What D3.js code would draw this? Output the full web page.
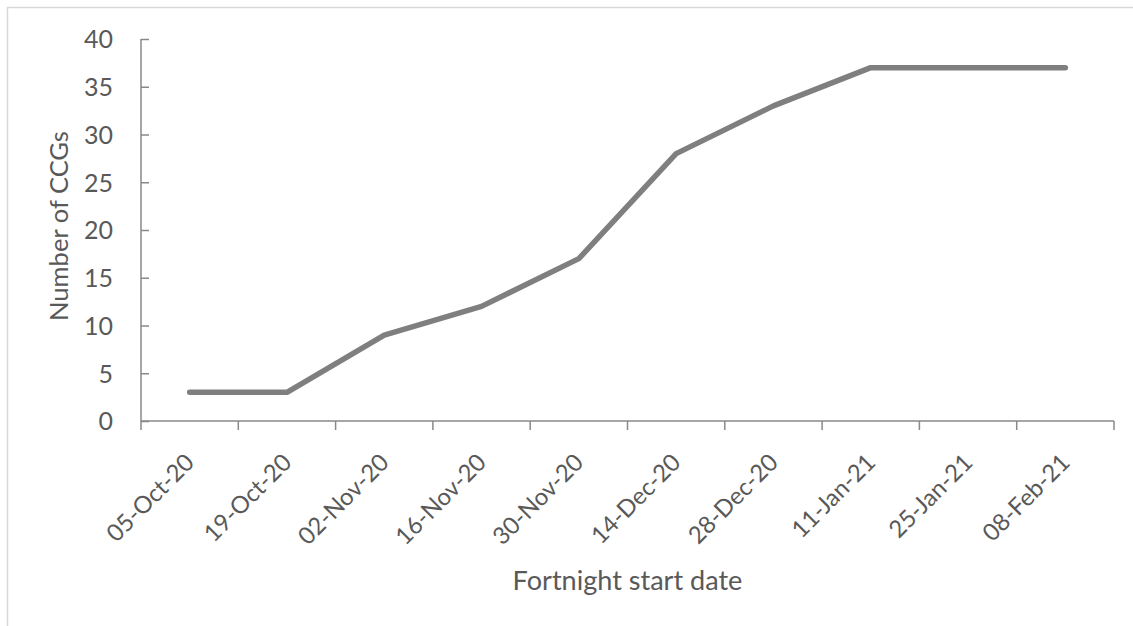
<!DOCTYPE html>
<html><head><meta charset="utf-8">
<script src="https://cdn.jsdelivr.net/npm/d3@7"></script>
<style>
html,body{margin:0;padding:0;background:#fff;}
svg{display:block;}
text{font-family:Lato,"Open Sans",sans-serif;fill:#595959;}
</style></head>
<body>
<svg id="chart" width="1133" height="626"></svg>
<script>
const categories = ["05-Oct-20","19-Oct-20","02-Nov-20","16-Nov-20","30-Nov-20","14-Dec-20","28-Dec-20","11-Jan-21","25-Jan-21","08-Feb-21"];
const values = [3,3,9,12,17,28,33,37,37,37];
const yTicks = [0,5,10,15,20,25,30,35,40];
const xTitle = "Fortnight start date";
const yTitle = "Number of CCGs";

const svg = d3.select("#chart");
svg.append("rect").attr("x",7.5).attr("y",7.5).attr("width",1140).attr("height",640)
  .attr("fill","none").attr("stroke","#d9d9d9").attr("stroke-width",1.5);

const pLeft = 141, pRight = 1114, pTop = 39, pBottom = 421;
const x = d3.scaleBand().domain(categories).range([pLeft,pRight]);
const y = d3.scaleLinear().domain([0,40]).range([pBottom,pTop]);
const axisColor = "#898989";

// size a font so that a sample string reaches a target width
function fitSize(sample, target){
  const t = svg.append("text").attr("font-size",20).text(sample);
  const len = t.node().getComputedTextLength();
  t.remove();
  return 20*target/len;
}
const tickSize = fitSize("40", 29);
const xLabSize = fitSize("05-Oct-20", 112);
const xTitleSize = fitSize(xTitle, 230);
const yTitleSize = fitSize(yTitle, 190);

// y axis
const gy = svg.append("g").attr("transform",`translate(${pLeft},0)`)
  .call(d3.axisRight(y).tickValues(yTicks).tickSize(8).tickFormat(d3.format("d")));
gy.select(".domain").attr("stroke",axisColor).attr("stroke-width",1.5).attr("d",`M0,${pTop}V${pBottom}`);
gy.selectAll(".tick line").attr("stroke",axisColor).attr("stroke-width",1.5);
gy.selectAll(".tick text").attr("x",-28).attr("text-anchor","end").attr("font-size",tickSize).attr("fill","#595959").attr("dy","0.35em");

// x axis
const gx = svg.append("g").attr("transform",`translate(0,${pBottom})`);
gx.append("line").attr("x1",pLeft).attr("x2",pRight).attr("y1",0).attr("y2",0).attr("stroke",axisColor).attr("stroke-width",1.5);
const bounds = categories.map(c=>x(c)).concat([pRight]);
gx.selectAll("line.tk").data(bounds).join("line").attr("class","tk")
  .attr("x1",d=>d).attr("x2",d=>d).attr("y1",0).attr("y2",9).attr("stroke",axisColor).attr("stroke-width",1.5);
gx.selectAll("text.lbl").data(categories).join("text").attr("class","lbl")
  .attr("transform",d=>`translate(${x(d)+x.bandwidth()/2+6},${43}) rotate(-45)`)
  .attr("text-anchor","end").attr("font-size",xLabSize).text(d=>d);

// line
const line = d3.line().x((d,i)=>x(categories[i])+x.bandwidth()/2).y(d=>y(d));
svg.append("path").datum(values).attr("d",line).attr("fill","none")
  .attr("stroke","#7f7f7f").attr("stroke-width",5.5).attr("stroke-linecap","round").attr("stroke-linejoin","round");

// titles
svg.append("text").attr("x",(pLeft+pRight)/2).attr("y",590).attr("text-anchor","middle").attr("font-size",xTitleSize).text(xTitle);
svg.append("text").attr("transform",`translate(68,226) rotate(-90)`).attr("text-anchor","middle").attr("font-size",yTitleSize).text(yTitle);
</script>
</body></html>
